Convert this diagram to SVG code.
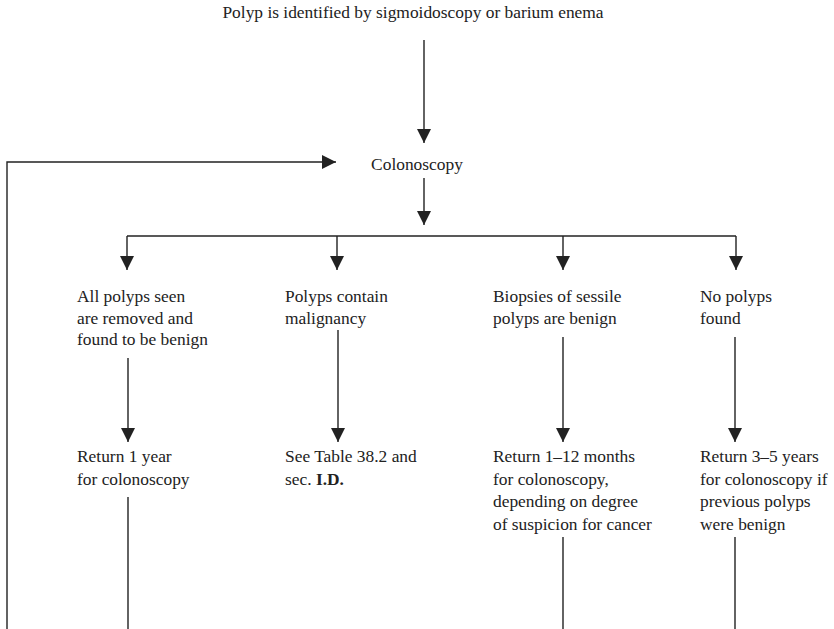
<svg xmlns="http://www.w3.org/2000/svg" width="834" height="629" viewBox="0 0 834 629">
<style>
text{font-family:'Liberation Serif','Times New Roman',serif;font-size:17.4px;fill:#222}
.c{text-anchor:middle}
.ln{stroke:#222;stroke-width:1.4;fill:none}
</style>
<defs>
<marker id="ah" viewBox="0 0 14 14" refX="14" refY="7" markerWidth="14" markerHeight="14" markerUnits="userSpaceOnUse" orient="auto">
<path d="M0,0 L14,7 L0,14 Z" fill="#222"/>
</marker>
</defs>
<rect width="834" height="629" fill="#fff"/>
<g id="start"><text class="c" x="413" y="18">Polyp is identified by sigmoidoscopy or barium enema</text></g>
<g id="colonoscopy"><text class="c" x="417" y="170">Colonoscopy</text></g>
<g id="n1"><text x="77" y="302">All polyps seen</text><text x="77" y="323.5">are removed and</text><text x="77" y="345">found to be benign</text></g>
<g id="n2"><text x="285" y="302">Polyps contain</text><text x="285" y="323.5">malignancy</text></g>
<g id="n3"><text x="493" y="302">Biopsies of sessile</text><text x="493" y="323.5">polyps are benign</text></g>
<g id="n4"><text x="700" y="302">No polyps</text><text x="700" y="323.5">found</text></g>
<g id="r1"><text x="77" y="462">Return 1 year</text><text x="77" y="484.5">for colonoscopy</text></g>
<g id="r2"><text x="285" y="462">See Table 38.2 and</text><text x="285" y="484.5">sec. <tspan font-weight="bold">I.D.</tspan></text></g>
<g id="r3"><text x="493" y="462">Return 1–12 months</text><text x="493" y="484.5">for colonoscopy,</text><text x="493" y="507">depending on degree</text><text x="493" y="529.5">of suspicion for cancer</text></g>
<g id="r4"><text x="700" y="462">Return 3–5 years</text><text x="700" y="484.5">for colonoscopy if</text><text x="700" y="507">previous polyps</text><text x="700" y="529.5">were benign</text></g>
<g id="connectors">
<path class="ln" d="M424,40 V143" marker-end="url(#ah)"/>
<path class="ln" d="M7,629 V162 H336" marker-end="url(#ah)"/>
<path class="ln" d="M424,178 V225" marker-end="url(#ah)"/>
<path class="ln" d="M127,236 H736"/>
<path class="ln" d="M127,236 V270" marker-end="url(#ah)"/>
<path class="ln" d="M337,236 V270" marker-end="url(#ah)"/>
<path class="ln" d="M563,236 V270" marker-end="url(#ah)"/>
<path class="ln" d="M736,236 V270" marker-end="url(#ah)"/>
<path class="ln" d="M128,358 V442" marker-end="url(#ah)"/>
<path class="ln" d="M338,330 V442" marker-end="url(#ah)"/>
<path class="ln" d="M563,337 V442" marker-end="url(#ah)"/>
<path class="ln" d="M735,337 V442" marker-end="url(#ah)"/>
<path class="ln" d="M128,497 V629"/>
<path class="ln" d="M563,537 V629"/>
<path class="ln" d="M735,537 V629"/>
</g>
</svg>
